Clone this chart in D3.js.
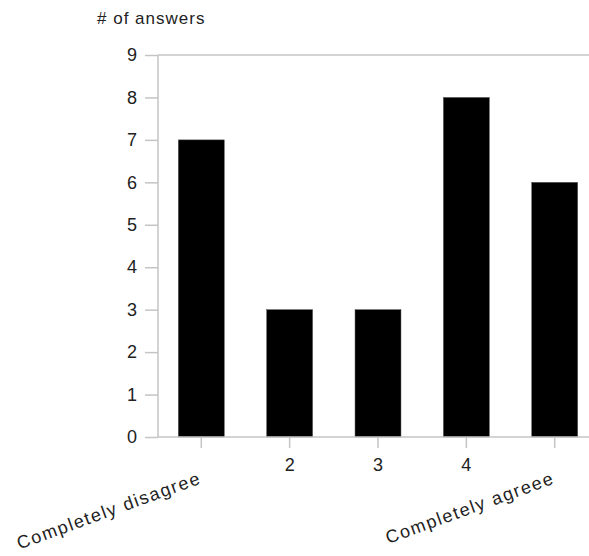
<!DOCTYPE html>
<html>
<head>
<meta charset="utf-8">
<script src="https://cdn.jsdelivr.net/npm/d3@7"></script>
<style>
  body { margin: 0; background: #fff; }
  text { font-family: "Liberation Sans", Arial, sans-serif; fill: #222; }
</style>
</head>
<body>
<div id="chart"></div>
<script>
var width = 589,
    height = 556;

// data
var categories = ["Completely disagree", "2", "3", "4", "Completely agreee"];
var answers = [7, 3, 3, 8, 6];
var yTicks = [0, 1, 2, 3, 4, 5, 6, 7, 8, 9];
var rotated = ["Completely disagree", "Completely agreee"];

var mLeft = 158, mTop = 55, mBottom = 437, mRight = 598;

var svg = d3.select("#chart").append("svg")
    .attr("width", width)
    .attr("height", height);

var x = d3.scaleBand()
    .domain(categories)
    .range([mLeft, mRight])
    .paddingInner(0.48)
    .paddingOuter(0.23);

var y = d3.scaleLinear()
    .domain([0, 9])
    .range([mBottom, mTop]);

// top frame line
svg.append("line")
    .attr("x1", mLeft).attr("x2", width + 5)
    .attr("y1", y(9)).attr("y2", y(9))
    .style("stroke", "#c4c4c4")
    .style("stroke-width", 1.5);

// bars
svg.selectAll(".bar")
    .data(answers)
    .enter().append("rect")
    .attr("class", "bar")
    .attr("x", function(d, i) { return x(categories[i]); })
    .attr("y", function(d) { return y(d); })
    .attr("width", x.bandwidth())
    .attr("height", function(d) { return y(0) - y(d); })
    .attr("fill", "#000")
    .attr("stroke", "#555")
    .attr("stroke-width", 0.5);

// y axis
var yAxis = svg.append("g")
    .attr("transform", "translate(" + mLeft + ",0)")
    .call(d3.axisLeft(y).tickValues(yTicks).tickSize(13).tickPadding(8));
yAxis.select(".domain").remove();
yAxis.append("line")
    .attr("x1", 0).attr("x2", 0)
    .attr("y1", y(9)).attr("y2", y(0))
    .style("stroke", "#c4c4c4").style("stroke-width", 1.5);
yAxis.selectAll(".tick line").style("stroke", "#c4c4c4").style("stroke-width", 1.5);
yAxis.selectAll(".tick text")
    .style("font-size", "18px")
    .style("fill", "#222")
    .attr("font-family", null);

// x axis
var xAxis = svg.append("g")
    .attr("transform", "translate(0," + mBottom + ")")
    .call(d3.axisBottom(x).tickSize(11).tickPadding(10));
xAxis.select(".domain").remove();
xAxis.append("line")
    .attr("x1", mLeft).attr("x2", width + 5)
    .attr("y1", 0).attr("y2", 0)
    .style("stroke", "#c4c4c4").style("stroke-width", 1.5);
xAxis.selectAll(".tick line").style("stroke", "#c4c4c4").style("stroke-width", 1.5);
xAxis.selectAll(".tick text")
    .style("font-size", "18px")
    .style("fill", "#222")
    .attr("font-family", null)
    .each(function(d) {
        if (rotated.indexOf(d) >= 0) {
            d3.select(this)
                .attr("text-anchor", "end")
                .attr("y", 0)
                .attr("dy", 0)
                .style("letter-spacing", "1.6px")
                .attr("transform", "translate(1,46) rotate(-20)");
        }
    });

// y axis title
svg.append("text")
    .attr("x", 97)
    .attr("y", 24)
    .style("font-size", "17px")
    .style("letter-spacing", "1px")
    .text("# of answers");
</script>
</body>
</html>
